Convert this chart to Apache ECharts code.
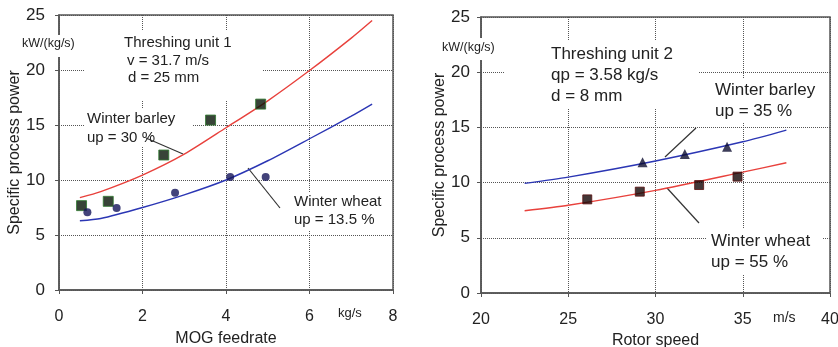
<!DOCTYPE html>
<html>
<head>
<meta charset="utf-8">
<script src="https://cdn.jsdelivr.net/npm/echarts@6/dist/echarts.min.js"></script>
<style>
  html, body { margin: 0; padding: 0; background: #fff; }
  #main { width: 838px; height: 347px; }
</style>
</head>
<body>
<div id="main"></div>
<script>
// Threshing unit 1: power over MOG feedrate (kg/s)
var unit1BarleyFitX = [0.5, 1, 2, 3, 4, 5, 6, 7, 7.5];
var unit1BarleyFitY = [8.4, 8.95, 10.45, 12.35, 14.75, 17.2, 19.95, 22.9, 24.5];
var unit1WheatFitX = [0.5, 1, 2, 3, 4, 5, 6, 7, 7.5];
var unit1WheatFitY = [6.3, 6.5, 7.5, 8.65, 10.0, 11.75, 13.75, 15.8, 16.9];
var unit1BarleyX = [0.54, 1.18, 2.51, 3.63, 4.83];
var unit1BarleyY = [7.67, 8.06, 12.27, 15.45, 16.9];
var unit1WheatX = [0.68, 1.38, 2.78, 4.1, 4.95];
var unit1WheatY = [7.06, 7.45, 8.85, 10.27, 10.27];

// Threshing unit 2: power over rotor speed (m/s)
var unit2BarleyFitX = [22.5, 25, 30, 35, 37.5];
var unit2BarleyFitY = [9.93, 10.5, 11.96, 13.7, 14.76];
var unit2WheatFitX = [22.5, 25, 30, 35, 37.5];
var unit2WheatFitY = [7.45, 7.95, 9.3, 10.95, 11.8];
var unit2BarleyX = [29.26, 31.68, 34.1];
var unit2BarleyY = [11.84, 12.59, 13.25];
var unit2WheatX = [26.09, 29.1, 32.5, 34.7];
var unit2WheatY = [8.48, 9.18, 9.78, 10.54];

function pairs(xs, ys) {
  var out = [];
  for (var i = 0; i < xs.length; i++) out.push([xs[i], ys[i]]);
  return out;
}

var FONT = 'Liberation Sans, Arial, sans-serif';
var INK = '#222';
var RED = '#e8413c';
var BLUE = '#2b36b4';

function valueAxis(idx, min, max, step, name) {
  return {
    type: 'value', gridIndex: idx, min: min, max: max, interval: step,
    name: name, nameLocation: 'middle', nameGap: 36,
    nameTextStyle: { fontFamily: FONT, fontSize: 16, color: INK },
    axisLine: { show: true, lineStyle: { color: '#555', width: 1.5 } },
    axisTick: { show: true, length: 4, lineStyle: { color: '#555' } },
    axisLabel: { fontFamily: FONT, fontSize: 16, color: INK, margin: 19 },
    splitLine: { show: true, lineStyle: { color: '#555', type: 'dotted', width: 1 } }
  };
}

// white text boxes (as in the original), covering gridlines behind them
function box(x, y, w, h) {
  return { type: 'rect', z: 1, shape: { x: x, y: y, width: w, height: h },
           style: { fill: '#fff' }, silent: true };
}
function label(x, y, text, size) {
  return { type: 'text', z: 3, x: x, y: y,
           style: { text: text, fontFamily: FONT, fontSize: size, fill: INK,
                    verticalAlign: 'middle' } };
}
function leader(x1, y1, x2, y2) {
  return { type: 'line', z: 3, shape: { x1: x1, y1: y1, x2: x2, y2: y2 },
           style: { stroke: '#333', lineWidth: 1.2 } };
}

var xA = valueAxis(0, 0, 8, 2, 'MOG feedrate');
var xB = valueAxis(1, 20, 40, 5, 'Rotor speed');
xA.nameGap = 41; xB.nameGap = 34;
var yA = valueAxis(0, 0, 25, 5, 'Specific process power');
var yB = valueAxis(1, 0, 25, 5, 'Specific process power');
yA.axisLabel.fontSize = 17; yB.axisLabel.fontSize = 17;
yA.axisLabel.margin = 14; yB.axisLabel.margin = 11;
yA.nameGap = 34; yB.nameGap = 25;

var option = {
  backgroundColor: '#fff',
  animation: false,
  grid: [
    { left: 59, top: 15, width: 334, height: 275, outerBoundsMode: 'none',
      show: true, borderColor: '#555', borderWidth: 1.5 },
    { left: 481, top: 17, width: 349, height: 276, outerBoundsMode: 'none',
      show: true, borderColor: '#555', borderWidth: 1.5 }
  ],
  xAxis: [xA, xB],
  yAxis: [yA, yB],
  series: [
    { type: 'line', xAxisIndex: 0, yAxisIndex: 0, data: pairs(unit1BarleyFitX, unit1BarleyFitY),
      smooth: 0.25, showSymbol: false, lineStyle: { color: RED, width: 1.4 } },
    { type: 'line', xAxisIndex: 0, yAxisIndex: 0, data: pairs(unit1WheatFitX, unit1WheatFitY),
      smooth: 0.25, showSymbol: false, lineStyle: { color: BLUE, width: 1.4 } },
    { type: 'scatter', xAxisIndex: 0, yAxisIndex: 0, data: pairs(unit1BarleyX, unit1BarleyY),
      symbol: 'rect', symbolSize: 10, z: 4,
      itemStyle: { color: '#061406', borderColor: '#2f7a2f', borderWidth: 1 } },
    { type: 'scatter', xAxisIndex: 0, yAxisIndex: 0, data: pairs(unit1WheatX, unit1WheatY),
      symbol: 'circle', symbolSize: 8, z: 4, itemStyle: { color: '#14145a' } },

    { type: 'line', xAxisIndex: 1, yAxisIndex: 1, data: pairs(unit2BarleyFitX, unit2BarleyFitY),
      smooth: 0.25, showSymbol: false, lineStyle: { color: BLUE, width: 1.4 } },
    { type: 'line', xAxisIndex: 1, yAxisIndex: 1, data: pairs(unit2WheatFitX, unit2WheatFitY),
      smooth: 0.25, showSymbol: false, lineStyle: { color: RED, width: 1.4 } },
    { type: 'scatter', xAxisIndex: 1, yAxisIndex: 1, data: pairs(unit2BarleyX, unit2BarleyY),
      symbol: 'triangle', symbolSize: 10, z: 4, itemStyle: { color: '#0c0c30' } },
    { type: 'scatter', xAxisIndex: 1, yAxisIndex: 1, data: pairs(unit2WheatX, unit2WheatY),
      symbol: 'rect', symbolSize: 9, z: 4,
      itemStyle: { color: '#140505', borderColor: '#5a1010', borderWidth: 1 } }
  ],
  graphic: [
    // left panel
    box(18, 35, 60, 22), label(22, 44, 'kW/(kg/s)', 12.5),
    box(84, 31, 179, 70),
    label(124, 43, 'Threshing unit 1', 15),
    label(127, 61, 'v = 31.7 m/s', 15),
    label(128, 78, 'd = 25 mm', 15),
    box(85, 109, 107, 38),
    label(87, 119, 'Winter barley', 15),
    label(87, 138, 'up = 30 %', 15),
    leader(146, 138, 183, 154),
    box(290, 192, 95, 38),
    label(294, 202, 'Winter wheat', 15),
    label(294, 220, 'up = 13.5 %', 15),
    leader(248, 168, 280, 208),
    label(338, 313, 'kg/s', 13),

    // right panel
    box(440, 38, 57, 22), label(442, 48, 'kW/(kg/s)', 12.5),
    box(505, 40, 194, 68),
    label(551, 54, 'Threshing unit 2', 17),
    label(551, 75, 'qp = 3.58 kg/s', 17),
    label(551, 96, 'd = 8 mm', 17),
    box(708, 79, 114, 44),
    label(715, 90, 'Winter barley', 17),
    label(715, 111, 'up = 35 %', 17),
    leader(696, 128, 665, 157),
    box(707, 229, 115, 46),
    label(711, 241, 'Winter wheat', 17),
    label(711, 262, 'up = 55 %', 17),
    leader(667, 188, 699, 223),
    label(773, 318, 'm/s', 14)
  ]
};

var chart = echarts.init(document.getElementById('main'), null, { renderer: 'canvas' });
chart.setOption(option);
</script>
</body>
</html>
